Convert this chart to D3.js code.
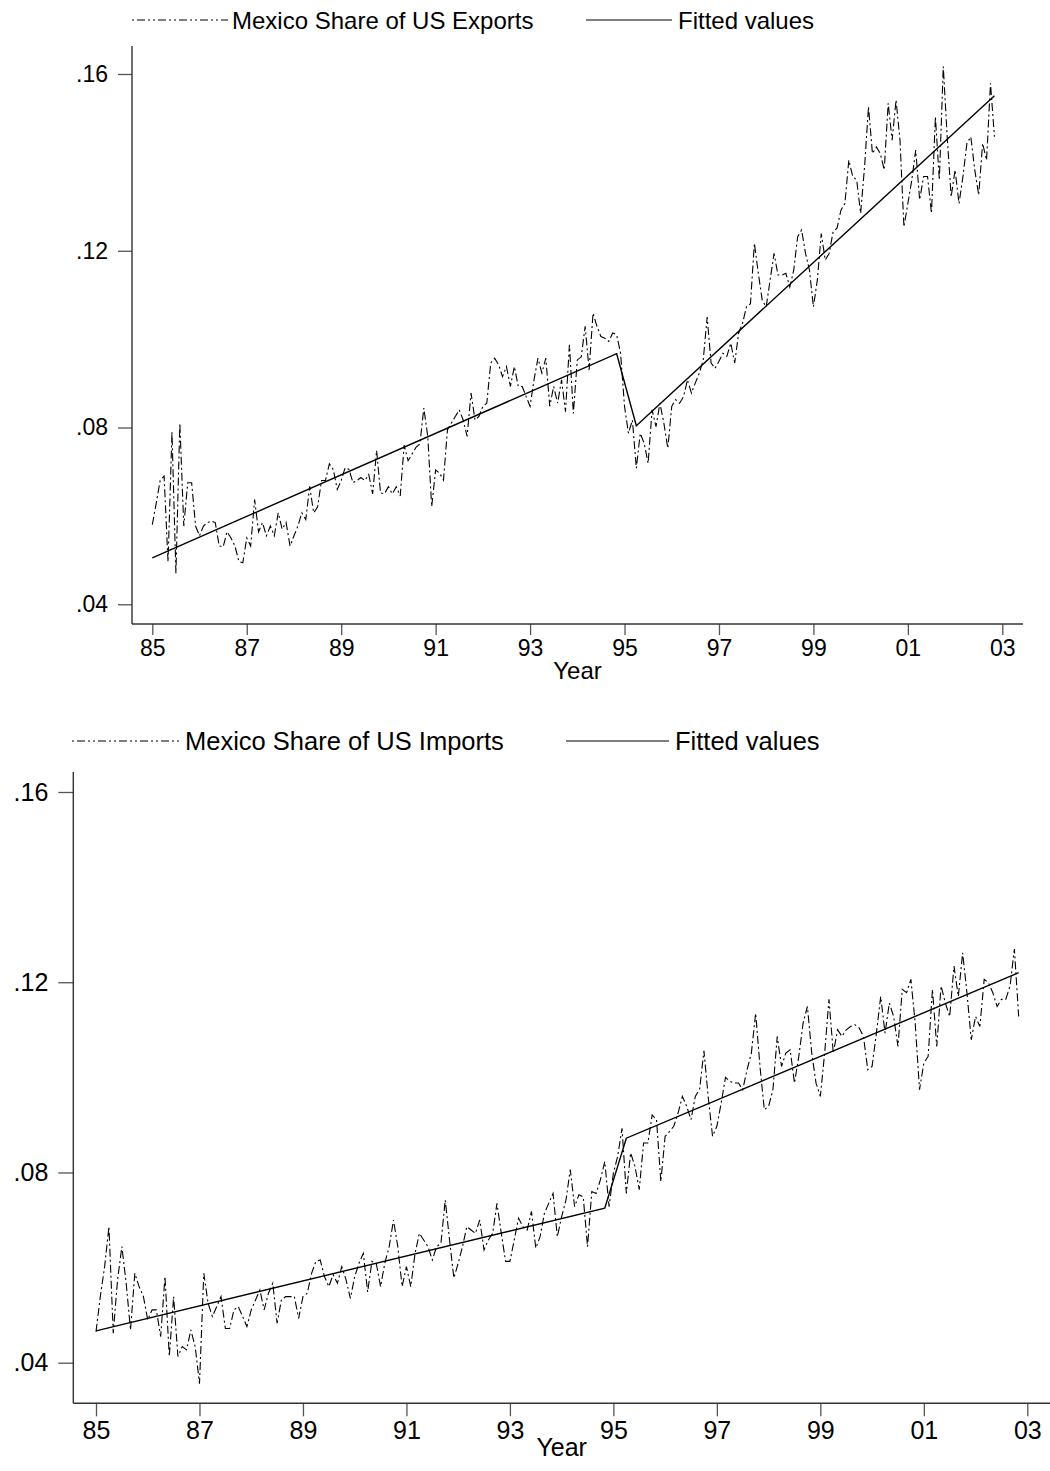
<!DOCTYPE html>
<html lang="en">
<head>
  <meta charset="UTF-8">
  <title>Mexico Share of US Trade</title>
  <style>
    body { margin: 0; background: #fff; }
    svg { display: block; }
    text { font-family: "Liberation Sans", Arial, sans-serif; fill: #000; }
  </style>
</head>
<body>
  <svg id="chart" width="1050" height="1471"></svg>

  <script src="https://cdnjs.cloudflare.com/ajax/libs/d3/7.8.5/d3.min.js"></script>
  <script>
    // monthly, Jan 1985 .. Nov 2002
    var exportShare = [
      .058, .0629, .068, .069, .0496, .079, .047, .081, .0577, .0675, .0675, .0577,
      .0555, .0577, .0585, .0588, .0585, .0532, .053, .0564, .055, .0532, .0497, .0494,
      .055, .0532, .0637, .0564, .0585, .0555, .0577, .0555, .0607, .057, .0585, .0532,
      .0555, .0577, .0607, .0592, .0667, .0607, .062, .068, .068, .0718, .0705, .066,
      .068, .0709, .0705, .0675, .068, .0687, .068, .0694, .065, .0748, .0652, .065,
      .0666, .065, .0666, .0645, .076, .0725, .074, .0755, .0763, .0844, .078, .0621,
      .0704, .0697, .0681, .0795, .081, .0825, .084, .0817, .078, .0878, .0817, .0825,
      .0848, .0855, .0946, .0957, .0942, .0915, .0938, .0893, .0938, .0893, .0893, .087,
      .0848, .0908, .0957, .0923, .0957, .0848, .0893, .0855, .0908, .0836, .0987, .0832,
      .0953, .096, .1029, .093, .1059, .1029, .1006, .1002, .0995, .1014, .101, .0968,
      .0848, .0787, .0817, .0708, .0787, .0764, .0719, .084, .0802, .0855, .081, .0753,
      .0848, .0863, .0855, .087, .0908, .0878, .0901, .0923, .0953, .105, .0946, .0934,
      .095, .0968, .0961, .0991, .0946, .1014, .1036, .1074, .108, .1217, .1149, .1088,
      .1073, .1134, .1194, .1145, .1145, .1149, .1118, .1156, .1232, .1247, .1194, .1156,
      .1073, .1134, .1239, .1179, .1194, .1243, .1251, .1292, .1307, .1405, .1368, .136,
      .1285, .139, .1526, .142, .1435, .142, .1383, .1534, .145, .1541, .145, .1254,
      .1307, .136, .1428, .1315, .1368, .1368, .1285, .1503, .136, .1617, .1458, .1322,
      .1383, .1307, .1368, .1443, .1458, .1383, .1326, .1443, .1405, .1579, .1458
    ];
    var importShare = [
      .0465, .0539, .0602, .0686, .0462, .0574, .0644, .0567, .0469, .0588, .056, .0539,
      .049, .0511, .0511, .0455, .0581, .0413, .0539, .0413, .0434, .0427, .0469, .0434,
      .0356, .0588, .0525, .0497, .0518, .0539, .0472, .0472, .0511, .0518, .0497, .0476,
      .0511, .0532, .0553, .0511, .0546, .0567, .0483, .0532, .0539, .0539, .0539, .0493,
      .0539, .0546, .0588, .0613, .0616, .0581, .056, .0585, .0567, .0602, .0574, .0535,
      .0581, .0609, .063, .0549, .0613, .0609, .056, .061, .0644, .07, .0644, .056,
      .0602, .056, .063, .0672, .0658, .0644, .0616, .0644, .0651, .0742, .0658, .0578,
      .0609, .0644, .0686, .0679, .0672, .07, .0637, .0658, .0672, .0735, .0672, .0613,
      .0613, .0658, .0704, .0686, .0679, .0718, .0641, .0665, .0714, .0735, .0756, .0665,
      .0707, .0742, .0806, .0728, .0753, .0749, .0644, .076, .0756, .0785, .0823, .0728,
      .0799, .0834, .0893, .0756, .0841, .0813, .0764, .0862, .0862, .0921, .0911, .0781,
      .0876, .0886, .0897, .0925, .096, .0939, .0911, .096, .0975, .1056, .0958, .0876,
      .0897, .0946, .1, .0992, .0988, .0988, .0974, .1016, .1051, .1135, .1023, .0932,
      .0939, .0974, .1086, .1023, .1051, .1058, .0988, .1044, .1114, .1149, .1051, .0988,
      .096, .1051, .1164, .1051, .11, .1086, .11, .1107, .1111, .1104, .1086, .1016,
      .1023, .1093, .117, .1093, .1156, .1128, .1065, .1185, .1178, .1206, .1114, .0974,
      .103, .1044, .1185, .1065, .1192, .1156, .1128, .1234, .117, .1262, .1178, .1079,
      .1128, .1107, .1206, .1199, .1178, .1149, .1164, .1164, .1192, .127, .1128
    ];

    // fitted values: piecewise linear, break months (index from Jan 1985)
    var fitMonths = [0, 118, 123, 214];
    var exportFit = [.0505, .0967, .0804, .1551];
    var importFit = [.0467, .0725, .0872, .122];

    var yearTicks = [0, 24, 48, 72, 96, 120, 144, 168, 192, 216];
    var yearLabels = ['85', '87', '89', '91', '93', '95', '97', '99', '01', '03'];
    var shareTicks = [.04, .08, .12, .16];
    var shareLabels = ['.04', '.08', '.12', '.16'];

    var svg = d3.select('#chart');

    function drawPanel(p) {
      var g = svg.append('g');

      var x = d3.scaleLinear().domain([0, 216]).range([p.x0, p.x1]);
      var y = d3.scaleLinear().domain([.04, .16]).range([p.y04, p.y16]);

      // y axis
      var axisY = d3.axisLeft(y)
        .tickValues(shareTicks)
        .tickFormat(function (d, i) { return shareLabels[i]; })
        .tickSize(p.yTick)
        .tickPadding(10);
      var gy = g.append('g')
        .attr('transform', 'translate(' + p.left + ',0)')
        .call(axisY);
      gy.select('.domain').remove();
      gy.selectAll('line').attr('stroke', '#555').attr('stroke-width', 1.3);
      gy.selectAll('text')
        .style('font-family', '"Liberation Sans", Arial, sans-serif')
        .style('font-size', p.tickFont + 'px');
      g.append('line')
        .attr('x1', p.left).attr('x2', p.left)
        .attr('y1', p.top).attr('y2', p.bottom)
        .attr('stroke', '#333').attr('stroke-width', 1.4);

      // x axis
      var axisX = d3.axisBottom(x)
        .tickValues(yearTicks)
        .tickFormat(function (d, i) { return yearLabels[i]; })
        .tickSize(p.xTick)
        .tickPadding(5);
      var gx = g.append('g')
        .attr('transform', 'translate(0,' + p.bottom + ')')
        .call(axisX);
      gx.select('.domain').remove();
      gx.selectAll('line').attr('stroke', '#555').attr('stroke-width', 1.3);
      gx.selectAll('text')
        .style('font-family', '"Liberation Sans", Arial, sans-serif')
        .style('font-size', p.tickFont + 'px');
      g.append('line')
        .attr('x1', p.left).attr('x2', p.right)
        .attr('y1', p.bottom).attr('y2', p.bottom)
        .attr('stroke', '#333').attr('stroke-width', 1.4);

      g.append('text')
        .attr('x', (p.left + p.right) / 2)
        .attr('y', p.titleY)
        .attr('text-anchor', 'middle')
        .style('font-size', p.titleFont + 'px')
        .text('Year');

      // series
      var line = d3.line()
        .x(function (d, i) { return x(i); })
        .y(function (d) { return y(d); });
      g.append('path')
        .datum(p.series)
        .attr('d', line)
        .attr('fill', 'none')
        .attr('stroke', '#000')
        .attr('stroke-width', 1.1)
        .attr('stroke-dasharray', '8,3,2,3');

      var fitLine = d3.line()
        .x(function (d, i) { return x(fitMonths[i]); })
        .y(function (d) { return y(d); });
      g.append('path')
        .datum(p.fit)
        .attr('d', fitLine)
        .attr('fill', 'none')
        .attr('stroke', '#000')
        .attr('stroke-width', 1.4);

      // legend
      var ly = p.legendY;
      g.append('line')
        .attr('x1', p.leg1[0]).attr('x2', p.leg1[1])
        .attr('y1', ly).attr('y2', ly)
        .attr('stroke', '#000').attr('stroke-width', 1.1)
        .attr('stroke-dasharray', '2,3,8,3,2,3');
      g.append('text')
        .attr('x', p.leg1[2]).attr('y', ly)
        .attr('dy', '0.36em')
        .style('font-size', p.legendFont + 'px')
        .text(p.label);
      g.append('line')
        .attr('x1', p.leg2[0]).attr('x2', p.leg2[1])
        .attr('y1', ly).attr('y2', ly)
        .attr('stroke', '#000').attr('stroke-width', 1.2);
      g.append('text')
        .attr('x', p.leg2[2]).attr('y', ly)
        .attr('dy', '0.36em')
        .style('font-size', p.legendFont + 'px')
        .text('Fitted values');
    }

    drawPanel({
      series: exportShare, fit: exportFit,
      label: 'Mexico Share of US Exports',
      left: 132, right: 1023, top: 46, bottom: 624,
      x0: 152.3, x1: 1002.3, y04: 604.3, y16: 74,
      yTick: 14, xTick: 11, tickFont: 23, titleFont: 24, titleY: 679,
      legendY: 20, legendFont: 24,
      leg1: [132, 228, 232], leg2: [586, 672, 678]
    });

    drawPanel({
      series: importShare, fit: importFit,
      label: 'Mexico Share of US Imports',
      left: 73.3, right: 1050, top: 772, bottom: 1403.3,
      x0: 96, x1: 1027.3, y04: 1362.7, y16: 792,
      yTick: 15, xTick: 13, tickFont: 25, titleFont: 25, titleY: 1456,
      legendY: 741, legendFont: 25.5,
      leg1: [72, 180, 185], leg2: [566, 669, 675]
    });
  </script>
</body>
</html>
